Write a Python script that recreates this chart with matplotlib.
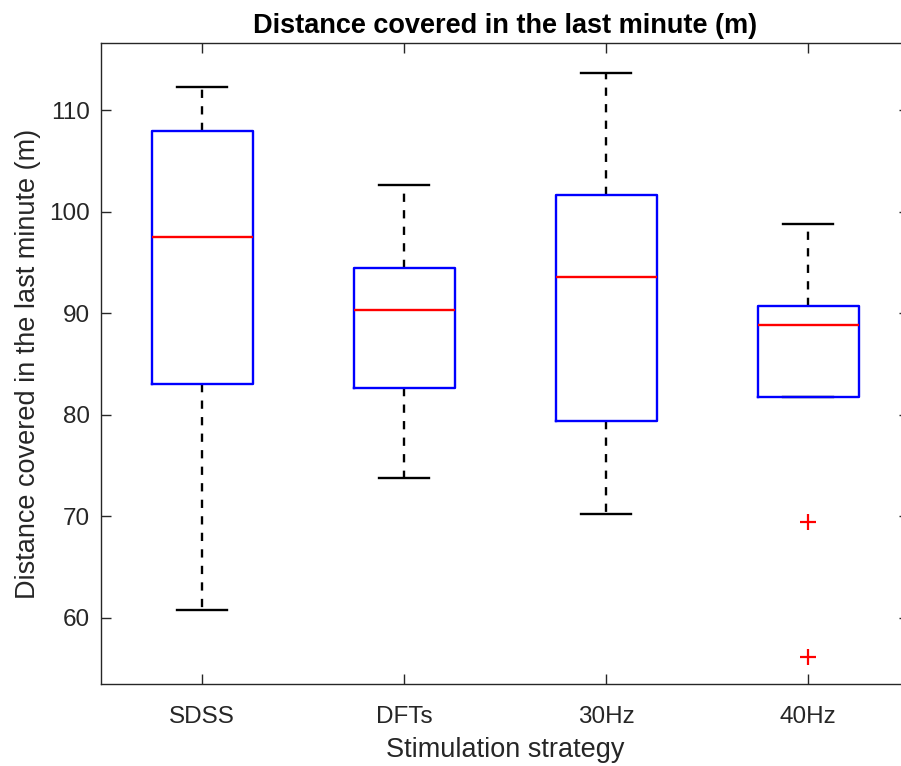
import matplotlib
matplotlib.use("Agg")
import matplotlib.pyplot as plt

plt.rcParams["font.family"] = ["Liberation Sans", "DejaVu Sans"]

# data (m)
categories = ["SDSS", "DFTs", "30Hz", "40Hz"]
whisker_low = [60.8, 73.8, 70.2, 81.8]
q1 = [83.0, 82.6, 79.4, 81.8]
medians = [97.5, 90.3, 93.6, 88.8]
q3 = [107.9, 94.5, 101.6, 90.7]
whisker_high = [112.3, 102.6, 113.6, 98.8]
outliers = [[], [], [], [69.4, 56.2]]
y_ticks = [60, 70, 80, 90, 100, 110]

stats = []
for i, name in enumerate(categories):
    stats.append({
        "label": name,
        "whislo": whisker_low[i],
        "q1": q1[i],
        "med": medians[i],
        "q3": q3[i],
        "whishi": whisker_high[i],
        "fliers": outliers[i],
    })

fig = plt.figure(figsize=(9.01, 7.66), dpi=100)
# the right edge of the axes runs slightly past the picture, as in the original
ax = fig.add_axes([101 / 901, 82 / 766, 808 / 901, 641 / 766])

ax.bxp(
    stats,
    positions=[1, 2, 3, 4],
    widths=0.5,
    showfliers=True,
    boxprops=dict(color="#0000ff", linewidth=1.7, zorder=4),
    medianprops=dict(color="#ff0000", linewidth=1.7, zorder=5),
    whiskerprops=dict(color="black", linewidth=1.7, linestyle=(0, (3.5, 3.5)), zorder=2),
    capprops=dict(color="black", linewidth=1.7, zorder=3),
    capwidths=0.25,
    flierprops=dict(marker="+", markeredgecolor="#ff0000", markersize=11, markeredgewidth=1.6),
)

ax.set_xlim(0.5, 4.5)
ax.set_ylim(53.5, 116.6)
ax.set_yticks(y_ticks)
ax.set_xticks([1, 2, 3, 4])
ax.set_xticklabels(categories)

for side in ax.spines.values():
    side.set_color("#262626")
    side.set_linewidth(1.0)
ax.tick_params(direction="in", length=7, width=1.0, colors="#262626",
               labelsize=17.5, top=True, right=True)
ax.tick_params(axis="x", pad=16)
ax.tick_params(axis="y", pad=8)

ax.set_xlabel("Stimulation strategy", fontsize=19.5, color="#262626", labelpad=6)
ax.set_ylabel("Distance covered in the last minute (m)", fontsize=19.5, color="#262626", labelpad=6)
ax.set_title("Distance covered in the last minute (m)", fontsize=19.5, fontweight="bold", pad=7)

fig.savefig("out.png", dpi=100)
